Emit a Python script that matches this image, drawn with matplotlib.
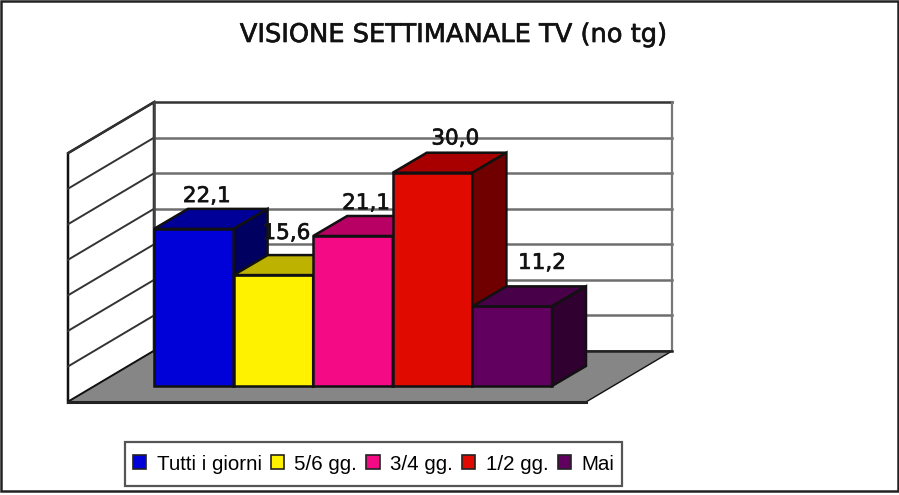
import matplotlib
matplotlib.use('Agg')
import matplotlib.pyplot as plt
import matplotlib.patheffects as pe
from matplotlib.patches import Polygon, Patch, Rectangle

title = 'VISIONE SETTIMANALE TV (no tg)'
categories = ['Tutti i giorni', '5/6 gg.', '3/4 gg.', '1/2 gg.', 'Mai']
values = [22.1, 15.6, 21.1, 30.0, 11.2]
value_labels = ['22,1', '15,6', '21,1', '30,0', '11,2']
front_colors = ['#0000d8', '#fff200', '#f50a86', '#e00a00', '#620060']
top_colors = ['#000098', '#bdb200', '#b80064', '#a80000', '#480048']
side_colors = ['#000060', '#7a7300', '#7a0045', '#700000', '#300030']
grid_values = [0, 5, 10, 15, 20, 25, 30, 35]

W, H = 899, 495
# scale of the value and category axes, in pixels per unit
px_x = 79.6
px_y = 7.11
# axes origin (first bar, value 0) in pixels
x0, y0 = 154, 386

fig = plt.figure(figsize=(W / 100, H / 100), dpi=100)
ax = fig.add_axes([0, 0, 1, 1])
ax.set_xlim(-x0 / px_x, (W - x0) / px_x)
ax.set_ylim(-(H - y0) / px_y, y0 / px_y)
ax.axis('off')

# depth offsets, data units
bar_dx = 34 / px_x
bar_dy = 20 / px_y
wall_dx = 86 / px_x
wall_dy = 51 / px_y
# back wall floor sits above the bar baseline
floor_v = 35 / px_y
wall_w = 518 / px_x
line = '#111111'
grid = '#6e6e6e'


def poly(pts, color, lw=1.8, ec=line, z=2):
    ax.add_patch(Polygon(pts, closed=True, fc=color, ec=ec, lw=lw, zorder=z, joinstyle='miter'))


# outer frame
ax.add_patch(Rectangle((0.0015, 0.008), 0.997, 0.99, transform=ax.transAxes,
                       fc='white', ec='#222222', lw=1.8, zorder=0))

# side wall and floor
top_v = floor_v + grid_values[-1]
poly([(-wall_dx, floor_v - wall_dy), (0, floor_v), (0, top_v), (-wall_dx, top_v - wall_dy)], 'white', z=1)
poly([(-wall_dx, floor_v - wall_dy), (0, floor_v), (wall_w, floor_v),
      (wall_w - wall_dx, floor_v - wall_dy)], '#868686', lw=1.0, z=1)
ax.plot([-wall_dx, wall_w - wall_dx], [floor_v - wall_dy] * 2, color='#222222', lw=2.2, zorder=1.5)
ax.plot([0, wall_w], [floor_v, floor_v], color='#222222', lw=1.8, zorder=1.5)

# grid
for g in grid_values[1:]:
    v = floor_v + g
    c = '#333333' if g == grid_values[-1] else grid
    ax.plot([0, wall_w], [v, v], color=c, lw=1.8, zorder=1.2)
    ax.plot([-wall_dx, 0], [v - wall_dy, v], color='#333333', lw=1.4, zorder=1.2)
ax.plot([0, 0], [floor_v, top_v], color='#444444', lw=1.8, zorder=1.3)
ax.plot([wall_w, wall_w], [floor_v, top_v], color='#777777', lw=1.6, zorder=1.3)

# bars
for i, v in enumerate(values):
    poly([(i, 0), (i + 1, 0), (i + 1, v), (i, v)], front_colors[i], z=3 + i * 0.1)
    poly([(i, v), (i + 1, v), (i + 1 + bar_dx, v + bar_dy), (i + bar_dx, v + bar_dy)],
         top_colors[i], z=3 + i * 0.1)
    poly([(i + 1, 0), (i + 1 + bar_dx, bar_dy), (i + 1 + bar_dx, v + bar_dy), (i + 1, v)],
         side_colors[i], z=3 + i * 0.1)

# value labels, placed by hand as in the original
label_dx = [-0.05, -0.05, -0.05, 0.07, 0.16]
label_dy = [1.8, 3.1, 1.8, 2.0, 3.3]
heavy = [pe.withStroke(linewidth=0.5, foreground='#222222')]
for i, v in enumerate(values):
    ax.text(i + 0.5 + bar_dx / 2 + label_dx[i], v + bar_dy + label_dy[i], value_labels[i],
            ha='center', va='center', fontsize=15.5, color='#111111', zorder=6,
            family='DejaVu Sans', path_effects=heavy)

fig.text(454 / W, 1 - 35 / H, title, ha='center', va='center', fontsize=18.5,
         color='#111111', family='DejaVu Sans', path_effects=heavy)

# legend box
fig.add_artist(Rectangle((125 / W, 1 - 486 / H), 497 / W, 44 / H, transform=fig.transFigure,
                         fc='white', ec='#555555', lw=1.6, zorder=5))
handles = [Patch(fc=c, ec='#222222', lw=1.2, label=l) for c, l in zip(front_colors, categories)]
leg = fig.legend(handles=handles, ncols=5, loc='center', bbox_to_anchor=(373.5 / W, 1 - 464 / H),
                 frameon=False, handlelength=0.65, handleheight=0.65, handletextpad=0.5,
                 columnspacing=0.45, borderpad=0, borderaxespad=0,
                 prop={'family': 'Liberation Sans', 'size': 14.8})
leg.set_zorder(6)

plt.savefig('out.png', dpi=100)
